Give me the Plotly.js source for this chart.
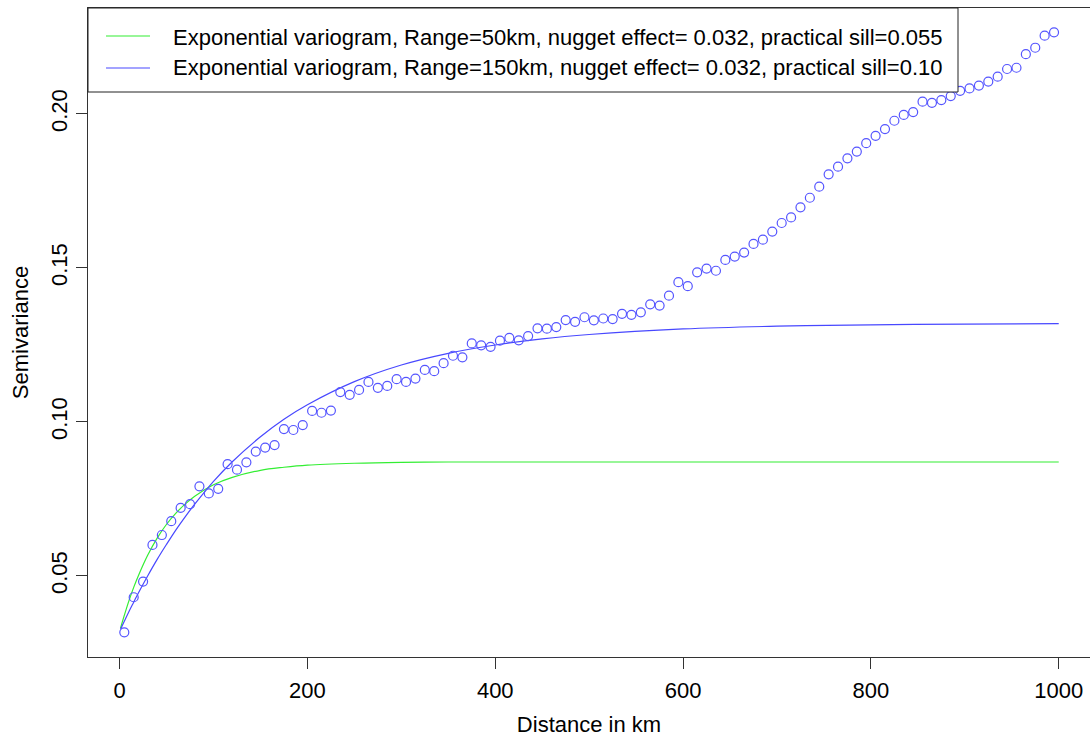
<!DOCTYPE html>
<html>
<head>
<meta charset="utf-8">
<script src="https://cdn.plot.ly/plotly-3.0.1.min.js"></script>
<style>
  html, body { margin: 0; padding: 0; background: #fff; }
  #chart { width: 1090px; height: 737px; }
</style>
</head>
<body>
<div id="chart"></div>
<script>
// Empirical semivariogram (distance bins, km) and semivariance values
const distances = [5,15,25,35,45,55,65,75,85,95,105,115,125,135,145,155,165,175,185,195,
  205,215,225,235,245,255,265,275,285,295,305,315,325,335,345,355,365,375,385,395,
  405,415,425,435,445,455,465,475,485,495,505,515,525,535,545,555,565,575,585,595,
  605,615,625,635,645,655,665,675,685,695,705,715,725,735,745,755,765,775,785,795,
  805,815,825,835,845,855,865,875,885,895,905,915,925,935,945,955,965,975,985,995];
const semivariance = [0.0317,0.0431,0.0482,0.0601,0.0633,0.0678,0.0721,0.0733,0.0791,0.0768,
  0.0783,0.0863,0.0845,0.0869,0.0904,0.0917,0.0925,0.0977,0.0974,0.0990,
  0.1036,0.1030,0.1037,0.1097,0.1088,0.1104,0.1130,0.1111,0.1117,0.1139,
  0.1130,0.1141,0.1169,0.1165,0.1191,0.1215,0.1210,0.1255,0.1249,0.1244,
  0.1264,0.1273,0.1265,0.1279,0.1304,0.1303,0.1308,0.1331,0.1325,0.1340,
  0.1330,0.1336,0.1334,0.1351,0.1348,0.1356,0.1382,0.1378,0.1410,0.1454,
  0.1441,0.1486,0.1498,0.1491,0.1526,0.1537,0.1550,0.1578,0.1592,0.1618,
  0.1646,0.1664,0.1697,0.1728,0.1764,0.1804,0.1829,0.1856,0.1878,0.1905,
  0.1929,0.1951,0.1978,0.1997,0.2006,0.2040,0.2036,0.2045,0.2058,0.2075,
  0.2083,0.2092,0.2105,0.2121,0.2146,0.2150,0.2194,0.2215,0.2254,0.2265];

// Fitted model curves
const modelDistances = [1,5,10,15,20,30,40,50,60,70,80,100,120,150,175,200,250,300,350,400,450,500,600,700,800,900,1000];
const model50km  = [0.0331,0.0372,0.0420,0.0463,0.0501,0.0568,0.0623,0.0668,0.0704,0.0734,0.0759,0.0796,0.0820,0.0843,0.0853,0.0860,0.0866,0.0869,0.0870,0.0870,0.0870,0.0870,0.0870,0.0870,0.0870,0.0870,0.0870];
const model150km = [0.0327,0.0353,0.0385,0.0415,0.0445,0.0501,0.0554,0.0603,0.0650,0.0693,0.0733,0.0807,0.0871,0.0952,0.1009,0.1056,0.1131,0.1185,0.1223,0.1250,0.1270,0.1284,0.1302,0.1311,0.1315,0.1318,0.1319];

const legendLabels = [
  "Exponential variogram, Range=50km, nugget effect= 0.032, practical sill=0.055",
  "Exponential variogram, Range=150km, nugget effect= 0.032, practical sill=0.10"
];
const xTicks = [0, 200, 400, 600, 800, 1000];
const yTicks = [0.05, 0.10, 0.15, 0.20];

const W = 1090, H = 737;
const M = { l: 88, r: 0, t: 8, b: 80 };
const PW = W - M.l - M.r, PH = H - M.t - M.b;
const px = x => (x - M.l) / PW;
const py = y => (H - M.b - y) / PH;

const FONT = '"Liberation Sans", Arial, Helvetica, sans-serif';
const GREEN = '#33ee33';
const BLUE = '#4848ff';

const traces = [
  {
    x: modelDistances, y: model50km, type: 'scatter', mode: 'lines',
    line: { color: GREEN, width: 1.2, shape: 'spline', smoothing: 1 },
    name: legendLabels[0], showlegend: false, hoverinfo: 'skip'
  },
  {
    x: modelDistances, y: model150km, type: 'scatter', mode: 'lines',
    line: { color: BLUE, width: 1.2, shape: 'spline', smoothing: 1 },
    name: legendLabels[1], showlegend: false, hoverinfo: 'skip'
  },
  {
    x: distances, y: semivariance, type: 'scatter', mode: 'markers',
    marker: { symbol: 'circle-open', size: 9, color: '#5555ff', line: { width: 1.2, color: '#5555ff' } },
    name: 'Empirical semivariogram', showlegend: false
  }
];

const layout = {
  width: W, height: H,
  margin: M,
  paper_bgcolor: '#fff', plot_bgcolor: '#fff',
  font: { family: FONT, size: 22, color: '#000' },
  showlegend: false,
  xaxis: {
    range: [-33.65, 1033.3], autorange: false,
    tickvals: xTicks, ticktext: xTicks.map(String),
    ticks: 'outside', ticklen: 11, tickwidth: 1, tickcolor: '#333',
    showline: true, mirror: true, linecolor: '#333', linewidth: 1,
    showgrid: false, zeroline: false,
    tickfont: { family: FONT, size: 22, color: '#000' },
    ticklabelstandoff: 3,
    title: { text: 'Distance in km', font: { family: FONT, size: 22, color: '#000' }, standoff: 17 }
  },
  yaxis: {
    range: [0.0237, 0.2344], autorange: false,
    tickvals: yTicks, ticktext: yTicks.map(v => v.toFixed(2)),
    tickangle: -90,
    ticks: 'outside', ticklen: 11, tickwidth: 1, tickcolor: '#333',
    showline: true, mirror: false, linecolor: '#333', linewidth: 1,
    showgrid: false, zeroline: false,
    tickfont: { family: FONT, size: 22, color: '#000' },
    title: { text: 'Semivariance', font: { family: FONT, size: 22, color: '#000' }, standoff: 12 }
  },
  shapes: [
    { type: 'rect', xref: 'paper', yref: 'paper', layer: 'above',
      x0: px(88), x1: px(958), y0: py(92), y1: py(8),
      line: { color: '#222', width: 1 }, fillcolor: '#fff' },
    { type: 'line', xref: 'paper', yref: 'paper', layer: 'above',
      x0: px(106), x1: px(150), y0: py(36), y1: py(36),
      line: { color: GREEN, width: 1.2 } },
    { type: 'line', xref: 'paper', yref: 'paper', layer: 'above',
      x0: px(106), x1: px(150), y0: py(68), y1: py(68),
      line: { color: BLUE, width: 1.2 } }
  ],
  annotations: [
    { xref: 'paper', yref: 'paper', x: px(171), y: py(37), xanchor: 'left', yanchor: 'middle',
      text: legendLabels[0], showarrow: false, font: { family: FONT, size: 22, color: '#000' } },
    { xref: 'paper', yref: 'paper', x: px(171), y: py(67), xanchor: 'left', yanchor: 'middle',
      text: legendLabels[1], showarrow: false, font: { family: FONT, size: 22, color: '#000' } }
  ]
};

Plotly.newPlot('chart', traces, layout, { displayModeBar: false, staticPlot: true });
</script>
</body>
</html>
